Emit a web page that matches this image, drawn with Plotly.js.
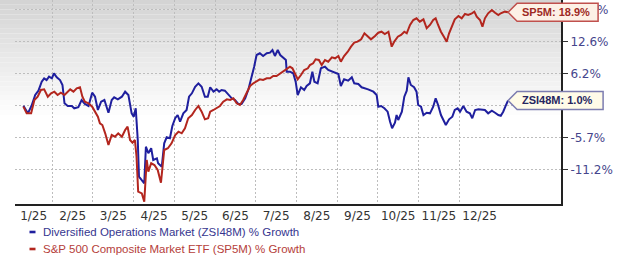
<!DOCTYPE html>
<html>
<head>
<meta charset="utf-8">
<script src="https://cdn.plot.ly/plotly-3.0.1.min.js"></script>
<style>html,body{margin:0;padding:0;background:#fff;}#chart{width:620px;height:258px;}</style>
</head>
<body>
<div id="chart"></div>
<script>
// ---- DATA ----
const monthLabels = ['1/25','2/25','3/25','4/25','5/25','6/25','7/25','8/25','9/25','10/25','11/25','12/25'];

// time in months since 1 Jan 2025, % growth
const zsiTime = [
0.29,0.40,0.49,0.58,0.66,0.74,0.80,0.86,0.92,0.99,
1.04,1.11,1.19,1.25,1.30,1.38,1.48,1.54,1.64,1.72,
1.80,1.89,1.98,2.05,2.12,2.20,2.28,2.38,2.46,2.52,
2.61,2.71,2.79,2.87,2.95,3.00,3.05,3.10,3.13,3.20,
3.26,3.30,3.36,3.43,3.48,3.57,3.60,3.69,3.75,3.81,
3.89,3.95,4.02,4.08,4.14,4.22,4.30,4.36,4.43,4.51,
4.59,4.67,4.75,4.82,4.88,4.96,5.04,5.10,5.16,5.24,
5.32,5.41,5.49,5.57,5.65,5.74,5.82,5.90,5.96,6.02,
6.10,6.18,6.27,6.35,6.41,6.47,6.54,6.60,6.68,6.74,
6.76,6.84,6.92,6.98,7.03,7.11,7.19,7.25,7.33,7.39,
7.44,7.52,7.60,7.70,7.78,7.87,7.95,8.03,8.09,8.17,
8.27,8.36,8.42,8.52,8.60,8.68,8.76,8.89,8.97,9.01,
9.08,9.16,9.24,9.30,9.35,9.42,9.46,9.50,9.59,9.65,
9.71,9.75,9.81,9.89,9.95,9.99,10.06,10.12,10.20,10.28,
10.36,10.42,10.48,10.55,10.61,10.67,10.75,10.83,10.89,10.96,
11.02,11.10,11.18,11.26,11.32,11.39,11.47,11.55,11.63,11.71,
11.80,11.88,11.96,12.02,12.08,12.14,12.20];
const zsiGrowth = [
0.0,-1.38,0.0,2.02,2.84,4.56,5.22,4.89,5.54,5.22,
6.20,5.42,4.89,3.93,0.47,-0.03,-0.03,-0.46,-0.27,1.08,
0.34,-0.03,2.46,1.70,-0.77,0.76,1.08,-1.27,1.08,1.58,
1.21,1.70,2.65,2.02,-1.38,-1.99,-0.46,-6.13,-12.30,-12.83,
-13.36,-7.29,-8.41,-7.56,-9.54,-9.26,-10.09,-10.66,-6.70,-5.66,
-5.83,-3.67,-2.28,-1.69,-2.90,-1.38,-0.77,1.70,2.34,3.60,
4.25,3.60,1.70,1.70,3.49,2.65,3.10,2.65,2.97,2.84,
2.21,1.40,1.08,0.34,0.34,1.40,3.10,5.42,7.51,9.86,
10.21,9.66,10.21,10.33,10.88,9.66,10.88,9.86,9.19,8.85,
6.52,6.52,6.20,4.56,2.02,3.49,2.97,3.74,4.25,6.52,
4.56,4.25,7.19,7.51,6.85,6.52,6.32,6.07,3.74,5.03,
4.76,5.42,4.25,4.12,3.49,3.30,3.10,2.65,2.02,-0.16,
-0.03,-0.46,-1.08,-2.90,-4.08,-3.08,-1.69,-2.59,-1.08,1.70,
2.84,5.42,3.93,3.49,2.65,0.15,-0.16,-1.69,-1.27,-1.38,
-0.16,1.40,0.15,-1.69,-2.59,-3.49,-2.47,-1.99,-0.77,-0.46,
-1.08,-0.03,-1.08,-1.38,-2.28,-0.77,-0.64,-0.64,-0.77,-1.38,
-0.90,-1.27,-1.69,-1.82,-1.08,-0.03,1.0];

const spTime = [
0.29,0.37,0.48,0.56,0.64,0.72,0.80,0.89,0.97,1.05,
1.13,1.21,1.30,1.35,1.44,1.52,1.60,1.68,1.74,1.80,
1.89,1.98,2.05,2.12,2.17,2.23,2.30,2.38,2.46,2.54,
2.62,2.71,2.79,2.85,2.91,2.97,3.03,3.07,3.11,3.20,
3.26,3.32,3.36,3.43,3.51,3.59,3.67,3.75,3.84,3.93,
4.02,4.10,4.18,4.26,4.34,4.43,4.51,4.59,4.67,4.75,
4.83,4.88,4.96,5.04,5.12,5.20,5.29,5.37,5.45,5.53,
5.61,5.69,5.78,5.86,5.94,6.02,6.10,6.18,6.27,6.35,
6.43,6.51,6.60,6.68,6.76,6.84,6.90,6.96,7.03,7.11,
7.19,7.28,7.33,7.41,7.47,7.55,7.62,7.70,7.78,7.87,
7.95,8.03,8.09,8.17,8.26,8.34,8.42,8.50,8.59,8.67,
8.75,8.83,8.93,9.01,9.09,9.17,9.26,9.30,9.34,9.40,
9.49,9.57,9.65,9.71,9.79,9.87,9.95,10.03,10.12,10.20,
10.28,10.36,10.42,10.48,10.55,10.63,10.69,10.75,10.83,10.89,
10.98,11.06,11.14,11.22,11.31,11.37,11.43,11.51,11.57,11.63,
11.71,11.80,11.88,11.96,12.02,12.12,12.20];
const spGrowth = [
-0.16,-1.38,-1.38,1.08,1.70,2.97,3.10,1.70,2.34,2.65,
2.02,2.46,2.02,2.34,3.10,2.65,3.30,3.49,1.70,0.76,
0.47,-0.16,-1.08,-1.99,-3.18,-3.49,-4.96,-7.00,-5.26,-5.56,
-4.96,-5.56,-4.38,-3.79,-6.13,-6.60,-6.13,-8.99,-14.70,-14.96,
-16.26,-9.54,-11.48,-10.09,-10.38,-11.20,-13.26,-7.85,-7.56,-6.70,
-5.26,-4.68,-4.96,-4.08,-2.28,-1.69,-0.77,-0.03,-1.08,-2.47,
-2.28,-1.08,-0.77,-0.46,-0.03,0.76,1.21,1.08,1.40,0.47,
0.15,1.08,2.46,3.74,4.25,4.56,5.03,4.89,5.22,5.22,
5.67,5.67,6.20,6.71,7.19,7.51,7.19,6.20,5.03,5.87,
6.85,7.19,7.85,8.19,8.99,8.85,7.85,8.85,8.51,9.39,
9.19,9.66,8.51,9.66,10.53,11.57,12.40,12.60,13.10,14.36,
13.79,13.10,13.79,14.49,14.70,14.22,14.70,13.31,11.57,12.60,
13.65,14.01,14.70,14.36,16.14,17.21,17.58,16.85,17.36,15.43,
16.14,17.21,17.58,16.14,14.70,13.52,12.60,14.36,16.14,17.36,
18.09,17.58,18.53,18.31,18.68,19.04,17.93,17.21,15.78,17.58,
18.68,19.40,18.81,18.31,18.68,19.04,18.9];

const yTickValues = [-11.2, -5.7, 0.0, 6.2, 12.6, 19.5];
const yTickLabels = ['-11.2%', '-5.7%', '', '6.2%', '12.6%', '19.5%'];
const seriesNames = ['Diversified Operations Market (ZSI48M) % Growth', 'S&P 500 Composite Market ETF (SP5M) % Growth'];
const seriesCodes = ['ZSI48M', 'SP5M'];

// ---- LAYOUT HELPERS ----
const W = 620, H = 258;
const ML = 15, MR = 59, MT = 0, MB = 54;
const PW = W - ML - MR, PH = H - MT - MB;
const X0 = 0.0835, X1 = 13.5;
const Y0 = Math.log10(Math.exp(-0.18174)), Y1 = Math.log10(Math.exp(0.19586));
const toFactor = v => 1 + v / 100;
const px2paperX = p => (p - ML) / PW;
const py2paperY = p => (H - MB - p) / PH;
const dataPaperX = t => (t - X0) / (X1 - X0);
const dataPaperY = v => (Math.log10(toFactor(v)) - Y0) / (Y1 - Y0);

const blue = '#1f1f9e', red = '#b3261e';

const traces = [
  {x: zsiTime, y: zsiGrowth.map(toFactor), type: 'scatter', mode: 'lines', name: seriesNames[0],
   line: {color: blue, width: 2}, showlegend: false, hoverinfo: 'skip'},
  {x: spTime, y: spGrowth.map(toFactor), type: 'scatter', mode: 'lines', name: seriesNames[1],
   line: {color: red, width: 2}, showlegend: false, hoverinfo: 'skip'}
];

const shapes = [];
// gradient background at the top
const bands = 24, gradH = 115;
for (let i = 0; i < bands; i++) {
  const c = Math.round(212 + (255 - 212) * (i / bands));
  shapes.push({type: 'rect', xref: 'paper', yref: 'paper', layer: 'below',
    x0: px2paperX(0), x1: 1, y0: py2paperY((i + 1) * gradH / bands), y1: py2paperY(i * gradH / bands),
    fillcolor: `rgb(${c},${c},${c})`, line: {width: 0}});
}

const annotations = [];
// end-value tags
function tag(t, v, code, w, border, fill, textColor) {
  const tx = dataPaperX(t), ty = dataPaperY(v);
  const dx = 1 / PW, dy = 1 / PH;
  const path = `M ${tx} ${ty} L ${tx + 9 * dx} ${ty + 9 * dy} L ${tx + w * dx} ${ty + 9 * dy} L ${tx + w * dx} ${ty - 9 * dy} L ${tx + 9 * dx} ${ty - 9 * dy} Z`;
  shapes.push({type: 'path', xref: 'paper', yref: 'paper', path: path, fillcolor: fill,
    line: {color: border, width: 1.5}, layer: 'above'});
  annotations.push({xref: 'paper', yref: 'paper', x: tx + 12 * dx, y: ty, xanchor: 'left', yanchor: 'middle',
    text: `<b>${code}: ${v.toFixed(1)}%</b>`, showarrow: false,
    font: {family: 'Liberation Sans, Arial, sans-serif', size: 11, color: textColor}});
}
tag(spTime[spTime.length - 1], spGrowth[spGrowth.length - 1], seriesCodes[1], 90, '#c0504d', '#fdf1e6', '#9e2a24');
tag(zsiTime[zsiTime.length - 1], zsiGrowth[zsiGrowth.length - 1], seriesCodes[0], 95, '#7d7db0', '#fffbe8', '#262660');

// legend
const legendColors = [[blue, '#36368f'], [red, '#b5403a']];
[232, 249].forEach((py, i) => {
  shapes.push({type: 'rect', xref: 'paper', yref: 'paper', x0: px2paperX(29.5), x1: px2paperX(35.5),
    y0: py2paperY(py + 1.3), y1: py2paperY(py - 1.3), fillcolor: legendColors[i][0], line: {width: 0}});
  annotations.push({xref: 'paper', yref: 'paper', x: px2paperX(40.5), y: py2paperY(py), xanchor: 'left', yanchor: 'middle',
    text: seriesNames[i], showarrow: false,
    font: {family: 'Liberation Sans, Arial, sans-serif', size: 11.5, color: legendColors[i][1]}});
});

const monthStarts = [X0].concat(monthLabels.slice(1).map((m, i) => i + 1));
const monthCenters = monthLabels.map((m, i) => i === 0 ? (X0 + 1) / 2 : i + 0.5);

const layout = {
  width: W, height: H,
  margin: {l: ML, r: MR, t: MT, b: MB, pad: 0},
  paper_bgcolor: '#ffffff', plot_bgcolor: 'rgba(0,0,0,0)',
  showlegend: false,
  xaxis: {
    type: 'linear', range: [X0, X1], tickmode: 'array', tickvals: monthCenters, ticktext: monthLabels,
    showgrid: false, zeroline: false, ticks: '', showline: true, linecolor: '#222', linewidth: 2,
    tickfont: {family: 'DejaVu Sans, sans-serif', size: 12, color: '#333'},
    minor: {tickmode: 'array', tickvals: monthStarts, showgrid: true, gridcolor: '#bdbdbd', griddash: '2px,2px', gridwidth: 1, ticks: ''},
    fixedrange: true
  },
  yaxis: {
    type: 'log', side: 'right', range: [Y0, Y1], tickmode: 'array',
    tickvals: yTickValues.map(toFactor), ticktext: yTickLabels,
    showgrid: true, gridcolor: '#bdbdbd', griddash: '2px,2px', gridwidth: 1,
    ticks: 'outside', ticklen: 5, tickwidth: 1, tickcolor: '#333',
    showline: true, linecolor: '#222', linewidth: 2, zeroline: false,
    tickfont: {family: 'DejaVu Sans, sans-serif', size: 12, color: '#45458c'},
    fixedrange: true
  },
  shapes: shapes,
  annotations: annotations
};

Plotly.newPlot('chart', traces, layout, {displayModeBar: false, staticPlot: true});
</script>
</body>
</html>
